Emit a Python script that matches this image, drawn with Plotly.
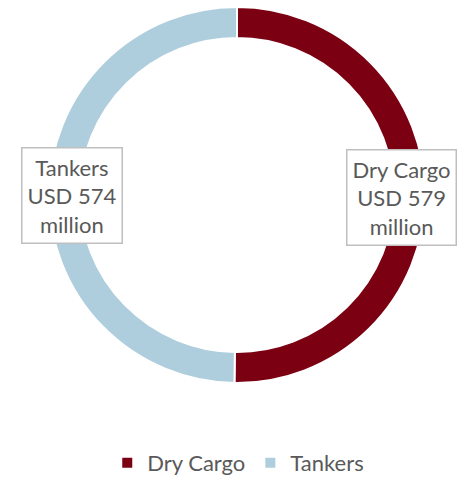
import plotly.graph_objects as go

# Freight market split (USD million)
segments = ["Dry Cargo", "Tankers"]
values_usd_m = [579, 574]
colors = ["#7B0011", "#AFCEDD"]

# Pie area in pixels (figure is 464 x 478)
W, H = 464, 478
cx, cy, r = 237, 195, 188

fig = go.Figure(
    go.Pie(
        labels=segments,
        values=values_usd_m,
        hole=0.835,
        sort=False,
        direction="clockwise",
        rotation=0,
        textinfo="none",
        hoverinfo="label+value",
        marker=dict(colors=colors, line=dict(color="white", width=2)),
        domain=dict(
            x=[(cx - r) / W, (cx + r) / W],
            y=[1 - (cy + r) / H, 1 - (cy - r) / H],
        ),
    )
)

FONT = "Lato, Open Sans, sans-serif"

# Boxed data labels on each side of the ring
label_pos = {"Dry Cargo": (401, 197), "Tankers": (72, 195)}
for name, val in zip(segments, values_usd_m):
    px, py = label_pos[name]
    fig.add_annotation(
        x=px / W,
        y=1 - py / H,
        xref="paper",
        yref="paper",
        xanchor="center",
        yanchor="middle",
        text=f"{name}<br>USD {val}<br>million",
        showarrow=False,
        font=dict(family=FONT, size=22, color="#595959"),
        bgcolor="white",
        bordercolor="#BFBFBF",
        borderwidth=1.5,
        borderpad=5,
        align="center",
    )

fig.update_layout(
    width=W,
    height=H,
    margin=dict(l=0, r=0, t=0, b=0, autoexpand=False),
    paper_bgcolor="white",
    plot_bgcolor="white",
    showlegend=True,
    legend=dict(
        orientation="h",
        x=0.5135,
        xanchor="center",
        y=1 - 463 / H,
        yanchor="middle",
        font=dict(family=FONT, size=22, color="#595959"),
        itemsizing="constant",
        traceorder="normal",
    ),
)

fig.write_html("out.html")
